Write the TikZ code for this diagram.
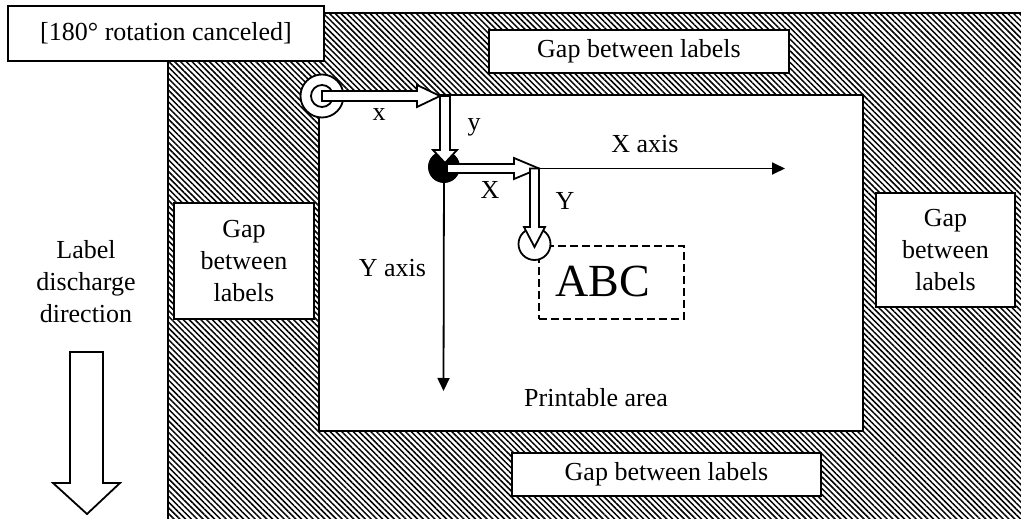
\documentclass[tikz,border=0pt]{standalone}
\usepackage{fontspec}
\setmainfont{Liberation Serif}
\usetikzlibrary{patterns.meta,arrows.meta}
\begin{document}
\begin{tikzpicture}[x=1pt,y=-1pt,
  lw/.style={line width=1.8pt},
  txt/.style={font=\fontsize{26}{32}\selectfont},
  box/.style={draw,lw,fill=white,inner sep=0pt,align=center,txt},
  lbl/.style={inner sep=0pt,txt},
  hollow/.style={draw,lw,fill=white,line join=miter},
  axis/.style={lw,-{Triangle[length=13pt,width=12pt]}},
  ring/.style={circle,draw,lw,inner sep=0pt},
]
\useasboundingbox (0,0) rectangle (1021,519);
% hatched margin
\fill[pattern={Lines[angle=-45,distance=4.1pt,line width=1.5pt]}] (168,13) rectangle (1025,523);
\draw[lw] (168,523) -- (168,13) -- (1025,13);
% printable area
\node[draw,lw,fill=white,minimum width=544pt,minimum height=336pt,inner sep=0pt] (pa) at (591,263) {};
% boxes
\node[box,minimum width=316pt,minimum height=55pt] (rot) at (166,33.5) {[180° rotation canceled]};
\node[box,minimum width=300pt,minimum height=43pt] (gt) at (639,51.5) {Gap between labels};
\node[box,minimum width=309pt,minimum height=43pt] (gb) at (666.5,474.5) {Gap between labels};
\node[box,minimum width=140pt,minimum height=116pt] (gl) at (244,261) {Gap\\between\\labels};
\node[box,minimum width=139pt,minimum height=114pt] (gr) at (945.5,250) {Gap\\between\\labels};
% left label and big arrow
\node[lbl,align=center] (ldd) at (86,282) {Label\\discharge\\direction};
\draw[hollow] (70,352) -- (103,352) -- (103,483) -- (120,483) -- (87,514) -- (53,483) -- (70,483) -- cycle;
% texts in printable area
\node[lbl] (lx) at (379,115) {x};
\node[lbl] (ly) at (474,127) {y};
\node[lbl] (lX) at (490,190) {X};
\node[lbl] (lY) at (565,201) {Y};
\node[lbl] (lXa) at (645,144) {X axis};
\node[lbl] (lYa) at (392.5,268) {Y axis};
\node[lbl] (lpa) at (596,398) {Printable area};
% ABC
\node[draw,lw,dash pattern=on 8pt off 4pt,minimum width=145pt,minimum height=73pt,inner sep=0pt] (abcbox) at (611.5,282.5) {};
\node[inner sep=0pt,font=\fontsize{46}{50}\selectfont] (abc) at (603,281) {ABC};
% coordinates
\coordinate (o1) at (322,96);
\coordinate (t1) at (440,96);
\coordinate (o2) at (444,167);
\coordinate (t2) at (539,168.5);
\coordinate (o3) at (534.5,244);
\coordinate (yend) at (443.5,391);
\coordinate (xend) at (785,168.5);
% axes
\draw[axis] (o2) -- (yend);
\draw[axis] (t2) -- (xend);
% origin and x arrow
\node[ring,fill=white,minimum size=43pt] (c1) at (o1) {};
\node[ring,minimum size=22pt] (c1i) at (o1) {};
\draw[hollow] (o1) ++(0,-5) -- ++(95,0) -- ++(0,-6) -- (t1) -- ++(-23,11) -- ++(0,-6) -- ++(-95,0) -- cycle;
% black origin, y arrow, X arrow
\node[circle,fill=black,minimum size=32pt,inner sep=0pt] (c2) at (o2) {};
\draw[hollow] (t1) -- ++(10,0) -- ++(0,54) -- ++(7,0) -- ++(-12,13) -- ++(-12,-13) -- ++(7,0) -- cycle;
\draw[hollow] (t2) ++(-25,-4.5) -- ++(0,-6) -- (t2) -- ++(-25,10.5) -- ++(0,-6) -- ++(-67,0) -- ++(0,-9) -- cycle;
% small circle and Y arrow
\node[ring,fill=white,minimum size=32pt] (c3) at (o3) {};
\draw[hollow] (t2) -- ++(0,58.5) -- ++(6,0) -- ++(-10.5,20) -- ++(-10.5,-20) -- ++(6,0) -- ++(0,-58.5) -- cycle;
\end{tikzpicture}
\end{document}
